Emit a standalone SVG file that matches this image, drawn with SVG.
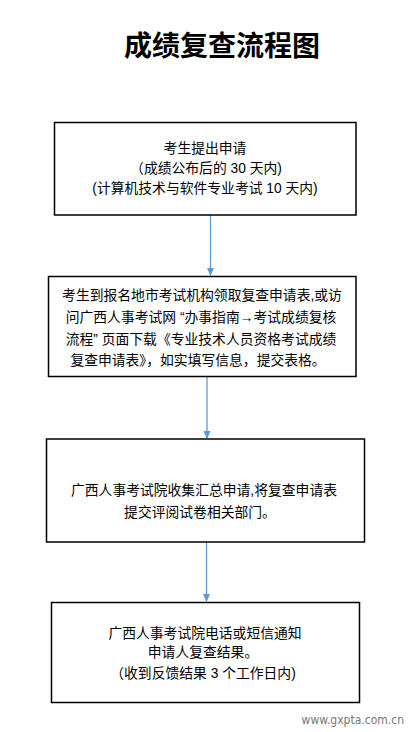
<svg xmlns="http://www.w3.org/2000/svg" width="412" height="732" viewBox="0 0 412 732">
<style>
.box{fill:#fff;stroke:#000;stroke-width:1.5}
.t{font-family:"Liberation Sans","Noto Sans CJK SC",sans-serif;font-size:13.8px;fill:#000;text-anchor:middle}
.title{font-family:"Noto Sans CJK SC",sans-serif;font-size:28px;font-weight:bold;fill:#000;text-anchor:middle}
.c{stroke:#5b9bd5;stroke-width:1.3;fill:none}
.wm{font-family:"DejaVu Sans Condensed","DejaVu Sans",sans-serif;font-size:12px;fill:#777;text-anchor:end}
</style>
<defs>
<marker id="ah" markerWidth="8" markerHeight="7" refX="7" refY="3.5" orient="auto" markerUnits="userSpaceOnUse">
<path d="M0,0 L8,3.5 L0,7 Z" fill="#5b9bd5"/>
</marker>
</defs>
<rect width="412" height="732" fill="#fff"/>
<text class="title" x="222" y="56">成绩复查流程图</text>
<g id="connectors">
<line class="c" x1="210.5" y1="215" x2="210.5" y2="275" marker-end="url(#ah)"/>
<line class="c" x1="207" y1="377" x2="207" y2="438" marker-end="url(#ah)"/>
<line class="c" x1="206.5" y1="542" x2="206.5" y2="601" marker-end="url(#ah)"/>
</g>
<g id="n1">
<rect class="box" x="54.5" y="122.5" width="301.5" height="92.5"/>
<text class="t" x="205" y="153">考生提出申请</text>
<text class="t" x="206" y="173">（成绩公布后的 30 天内)</text>
<text class="t" x="205" y="193">(计算机技术与软件专业考试 10 天内)</text>
</g>
<g id="n2">
<rect class="box" x="48.5" y="276.5" width="307.5" height="100"/>
<text class="t" x="202" y="300">考生到报名地市考试机构领取复查申请表,或访</text>
<text class="t" x="201" y="322">问广西人事考试网 “办事指南→考试成绩复核</text>
<text class="t" x="201" y="344">流程” 页面下载《专业技术人员资格考试成绩</text>
<text class="t" x="198" y="365">复查申请表》，如实填写信息，提交表格。</text>
</g>
<g id="n3">
<rect class="box" x="46.5" y="439" width="318" height="103"/>
<text class="t" x="204" y="495">广西人事考试院收集汇总申请,将复查申请表</text>
<text class="t" x="200" y="517">提交评阅试卷相关部门。</text>
</g>
<g id="n4">
<rect class="box" x="51.5" y="602.5" width="308" height="100"/>
<text class="t" x="205" y="638">广西人事考试院电话或短信通知</text>
<text class="t" x="203" y="657">申请人复查结果。</text>
<text class="t" x="203" y="678">（收到反馈结果 3 个工作日内)</text>
</g>
<text class="wm" x="404" y="724">www.gxpta.com.cn</text>
</svg>
